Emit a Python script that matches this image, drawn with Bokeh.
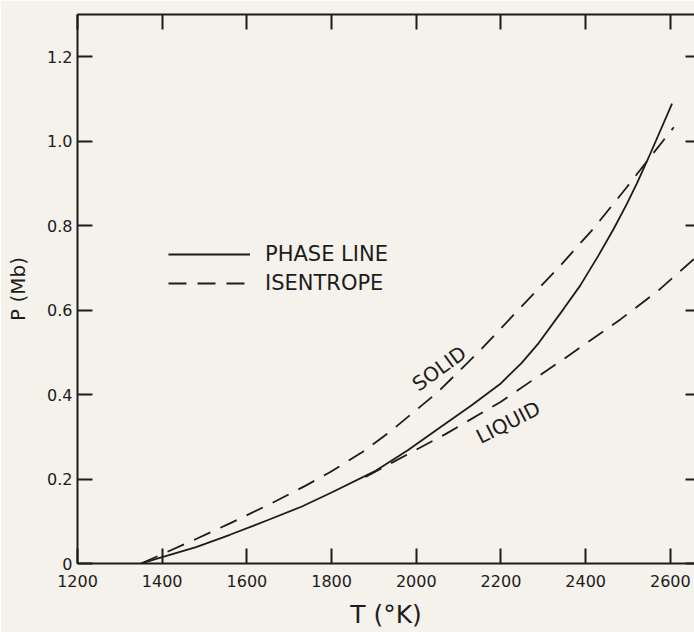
import math
from bokeh.plotting import figure
from bokeh.models import Range1d, LinearAxis, FixedTicker, Legend, LegendItem, Label
from bokeh.embed import file_html
from bokeh.resources import INLINE

# ---- data ----
phase_T = [1350, 1400, 1480, 1560, 1650, 1730, 1800, 1905, 1980, 2056, 2130, 2198,
           2249, 2289, 2348, 2387, 2430, 2466, 2497, 2521, 2549, 2604]
phase_P = [0.0, 0.015, 0.039, 0.068, 0.103, 0.135, 0.168, 0.220, 0.268, 0.322, 0.374, 0.425,
           0.475, 0.522, 0.603, 0.658, 0.729, 0.792, 0.851, 0.900, 0.962, 1.089]

solid_T = [1350, 1400, 1480, 1560, 1655, 1740, 1796, 1870, 1938, 2050, 2151, 2250,
           2340, 2420, 2497, 2549, 2608]
solid_P = [0.0, 0.022, 0.058, 0.095, 0.141, 0.185, 0.216, 0.262, 0.312, 0.405, 0.505, 0.610,
           0.705, 0.795, 0.891, 0.958, 1.033]

liquid_T = [1880, 1945, 2070, 2198, 2348, 2482, 2570, 2657]
liquid_P = [0.205, 0.240, 0.307, 0.382, 0.484, 0.578, 0.645, 0.722]

x_ticks = [1200, 1400, 1600, 1800, 2000, 2200, 2400, 2600]
y_ticks = [0, 0.2, 0.4, 0.6, 0.8, 1.0, 1.2]
y_tick_labels = {0: "0", 0.2: "0.2", 0.4: "0.4", 0.6: "0.6", 0.8: "0.8", 1.0: "1.0", 1.2: "1.2"}

series_names = ["PHASE LINE", "ISENTROPE"]
region_labels = ["SOLID", "LIQUID"]
region_T = [2054, 2217]
region_P = [0.462, 0.334]
region_angle_deg = [36, 27]

FONT = "DejaVu Sans"
INK = "#1c1c1c"
BG = "#f5f1eb"

p = figure(width=694, height=632, output_backend="svg", toolbar_location=None,
           x_range=Range1d(1200, 2657), y_range=Range1d(0, 1.3),
           x_axis_location=None, y_axis_location=None,
           min_border_left=77, min_border_bottom=69, min_border_top=14, min_border_right=0,
           background_fill_color=BG, border_fill_color=BG)
p.grid.visible = False
p.outline_line_color = None

def style(ax, labels=True):
    ax.axis_line_color = INK
    ax.axis_line_width = 2
    ax.major_tick_line_color = INK
    ax.major_tick_line_width = 2
    ax.major_tick_in = 15
    ax.major_tick_out = 0
    ax.minor_tick_line_color = None
    ax.major_label_text_font = FONT
    ax.major_label_text_color = INK
    ax.major_label_text_font_size = "16px"
    if not labels:
        ax.major_label_standoff = 0

bottom = LinearAxis(ticker=FixedTicker(ticks=x_ticks), axis_label="T (°K)")
style(bottom)
bottom.major_label_standoff = 11
bottom.axis_label_text_font = FONT
bottom.axis_label_text_font_style = "normal"
bottom.axis_label_text_font_size = "25px"
bottom.axis_label_text_color = INK
bottom.axis_label_standoff = 10
p.add_layout(bottom, "below")

left = LinearAxis(ticker=FixedTicker(ticks=y_ticks), axis_label="P (Mb)",
                  major_label_overrides=y_tick_labels)
style(left)
left.major_label_standoff = 5
left.axis_label_text_font = FONT
left.axis_label_text_font_style = "normal"
left.axis_label_text_font_size = "20px"
left.axis_label_text_color = INK
left.axis_label_standoff = 14
p.add_layout(left, "left")

top = LinearAxis(ticker=FixedTicker(ticks=x_ticks),
                 major_label_overrides={t: "" for t in x_ticks})
style(top, labels=False)
p.add_layout(top, "above")

right = LinearAxis(ticker=FixedTicker(ticks=y_ticks),
                   major_label_overrides={t: "" for t in y_ticks})
style(right, labels=False)
right.axis_line_color = None
right.major_tick_in = 9
p.add_layout(right, "right")

r_phase = p.line(phase_T, phase_P, line_color=INK, line_width=1.8)
r_solid = p.line(solid_T, solid_P, line_color=INK, line_width=1.8, line_dash="18 11")
p.line(liquid_T, liquid_P, line_color=INK, line_width=1.8, line_dash="18 11")

legend = Legend(items=[LegendItem(label=series_names[0], renderers=[r_phase]),
                       LegendItem(label=series_names[1], renderers=[r_solid])],
                location=(91, 268), glyph_width=82, glyph_height=20, label_height=20,
                spacing=5, label_standoff=15, padding=0, margin=0,
                border_line_color=None, background_fill_alpha=0,
                label_text_font=FONT, label_text_font_size="21px", label_text_color=INK)
p.add_layout(legend)

for t, x, y, a in zip(region_labels, region_T, region_P, region_angle_deg):
    p.add_layout(Label(x=x, y=y, text=t, angle=math.radians(a), text_align="center",
                       text_baseline="middle", text_font=FONT, text_font_size="20px",
                       text_color=INK))

open("out.html", "w").write(file_html(p, INLINE))
